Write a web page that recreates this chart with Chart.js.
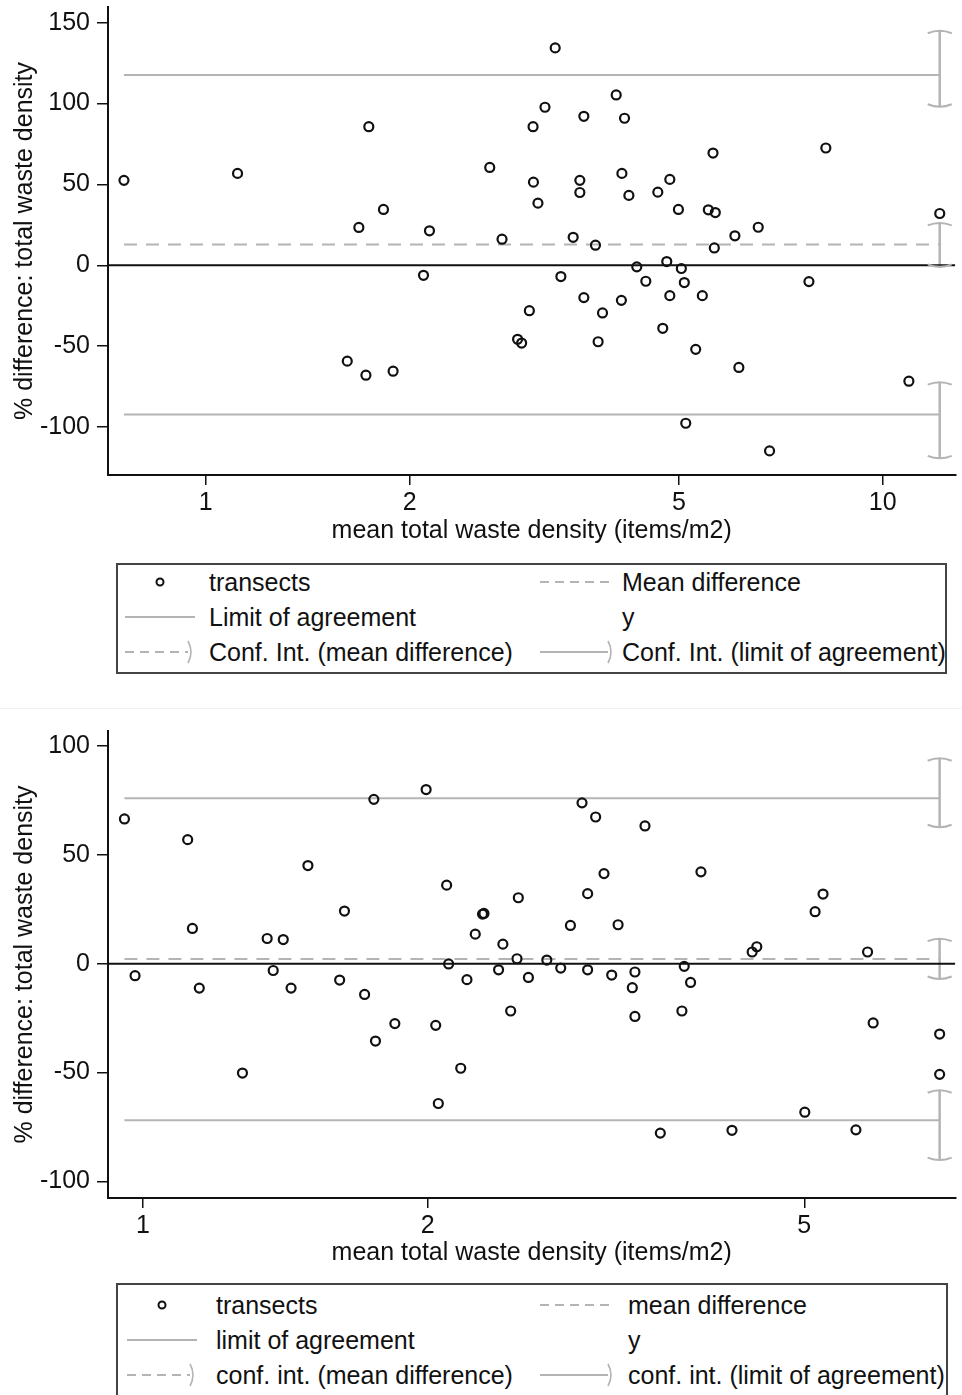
<!DOCTYPE html>
<html><head><meta charset="utf-8">
<script src="https://cdn.jsdelivr.net/npm/chart.js@4.4.1/dist/chart.umd.min.js"></script>
<style>
html,body{margin:0;padding:0;background:#fff;width:962px;height:1395px;overflow:hidden;font-family:"Liberation Sans",Arial,sans-serif;}
.cv{position:absolute;left:0;}
.legend{position:absolute;border:2px solid #444;box-sizing:border-box;font-size:25px;color:#111;background:#fff;}
.item{position:absolute;height:30px;line-height:30px;white-space:nowrap;}
.sym{position:absolute;}
.sep{position:absolute;left:0;width:962px;top:708px;height:1px;background:#f0f0f0;}
</style></head><body>
<canvas id="c1" class="cv" width="962" height="548" style="top:0px"></canvas>
<div id="l1" class="legend" style="left:116px;top:563px;width:831px;height:111px"></div>
<div class="sep"></div>
<canvas id="c2" class="cv" width="962" height="570" style="top:700px"></canvas>
<div id="l2" class="legend" style="left:116px;top:1283px;width:832px;height:130px"></div>
<script>
// ---------- Top panel data ----------
const topX = [0.757,1.114,1.741,1.683,1.830,2.140,2.097,1.618,1.724,1.891,
  3.282,2.627,2.739,4.039,3.17,3.618,4.155,3.044,5.614,8.241,
  3.048,3.569,3.569,3.095,4.118,4.217,4.653,4.847,4.991,5.525,
  5.658,12.14,6.048,6.548,3.489,3.764,5.639,4.797,4.332,5.041,
  3.346,4.467,5.092,3.618,4.847,5.414,7.78,4.111,3.006,3.855,
  4.732,2.888,2.928,3.798,5.293,6.13,10.93,5.117,6.805];
const topY = [52.5,56.8,85.7,23.4,34.5,21.3,-6.2,-59.3,-68,-65.5,
  134.4,60.5,16.1,105.3,97.7,92.1,90.9,85.7,69.4,72.5,
  51.4,52.5,45,38.4,56.8,43.2,45.2,53.1,34.5,34.3,
  32.6,32,18.2,23.5,17.3,12.4,10.7,2.3,-1,-2,
  -7,-9.9,-10.7,-20,-18.8,-18.8,-10.1,-21.7,-28.1,-29.5,
  -39,-45.8,-48.1,-47.3,-52,-63.2,-71.7,-97.7,-114.8];
const topXTicks = [1,2,5,10];
const topYTicks = [-100,-50,0,50,100,150];
const topXRange = [0.717,12.8];
const topYRange = [-129.7,159.7];
const topMeanDiff = 12.8;
const topLoa = [-92.3,117.7];
const topCiMean = [-1,26.2];
const topCiLoaUpper = [98,145];
const topCiLoaLower = [-119.4,-72.3];
const topLegend = ['transects','Mean difference','Limit of agreement','y','Conf. Int. (mean difference)','Conf. Int. (limit of agreement)'];

// ---------- Bottom panel data ----------
const botX = [0.956,0.981,1.115,1.128,1.147,1.274,1.353,1.407,1.373,1.434,
  1.494,1.614,1.633,1.715,1.754,1.761,1.846,1.992,2.039,2.052,
  2.094,2.104,2.167,2.2,2.245,2.285,2.293,2.401,2.376,2.485,
  2.493,2.447,2.555,2.672,2.764,2.83,2.911,2.951,2.951,3.009,
  3.071,3.129,3.178,3.29,3.311,3.311,3.393,3.522,3.733,3.712,
  3.791,3.888,4.193,4.404,4.454,5.006,5.133,5.233,5.669,5.832,
  5.912,6.95,6.95];
const botY = [66.5,-5.5,57,16.2,-11.2,-50.2,11.6,11.1,-3.1,-11.2,
  45.1,-7.5,24.2,-14.1,75.5,-35.5,-27.5,80,-28.3,-64.2,
  36.1,-0.1,-48,-7.3,13.6,22.8,23.1,9,-2.8,2.3,
  30.3,-21.7,-6.3,1.7,-2,17.6,73.9,32.2,-2.8,67.4,
  41.4,-5.2,17.9,-11,-3.8,-24.2,63.3,-77.8,-1.2,-21.7,
  -8.6,42.2,-76.5,5.4,7.8,-68.2,23.9,32,-76.3,5.4,
  -27.2,-32.3,-50.8];
const botXTicks = [1,2,5];
const botYTicks = [-100,-50,0,50,100];
const botXRange = [0.9185,7.22];
const botYRange = [-107.6,106.9];
const botMeanDiff = 2.2;
const botLoa = [-71.9,76];
const botCiMean = [-7,11.5];
const botCiLoaUpper = [62.7,94.4];
const botCiLoaLower = [-90.2,-58.1];
const botLegend = ['transects','mean difference','limit of agreement','y','conf. int. (mean difference)','conf. int. (limit of agreement)'];

const xTitle = 'mean total waste density (items/m2)';
const yTitle = '% difference: total waste density';

const GRAY = '#b4b4b4';
const INK = '#111';
Chart.defaults.font.family = '"Liberation Sans", Arial, sans-serif';
Chart.defaults.font.size = 25;
Chart.defaults.color = INK;

const ciCapPlugin = {
  id: 'ciCaps',
  afterDatasetsDraw(chart) {
    const ctx = chart.ctx;
    chart.data.datasets.forEach((ds, i) => {
      if (!ds.ciCap) return;
      const pts = chart.getDatasetMeta(i).data;
      if (pts.length < 2) return;
      const lo = pts[0], hi = pts[1];
      ctx.save();
      ctx.strokeStyle = ds.borderColor;
      ctx.lineWidth = 2;
      [[hi, 1], [lo, -1]].forEach(([p, s]) => {
        ctx.beginPath();
        ctx.moveTo(p.x - 12, p.y + s * 2.5);
        ctx.quadraticCurveTo(p.x, p.y - s * 2.5, p.x + 12, p.y + s * 2.5);
        ctx.stroke();
      });
      ctx.restore();
    });
  }
};

function buildChart(id, o) {
  const minX = Math.min(...o.x), maxX = Math.max(...o.x);
  const pts = o.x.map((x, i) => ({x, y: o.y[i]}));
  const hline = (y, x0, x1) => [{x: x0, y}, {x: x1, y}];
  const vline = (x, r) => [{x, y: r[0]}, {x, y: r[1]}];
  const lineDs = (label, data, extra) => Object.assign({
    label, data, showLine: true, borderColor: GRAY, borderWidth: 2,
    pointRadius: 0, pointHoverRadius: 0, fill: false, order: 2
  }, extra || {});
  const datasets = [
    {label: o.labels[0], data: pts, showLine: false, pointStyle: 'circle', pointRadius: 4.5,
     borderWidth: 2.2, pointBorderWidth: 2.2, pointBorderColor: INK, pointBackgroundColor: 'rgba(0,0,0,0)',
     borderColor: INK, backgroundColor: 'rgba(0,0,0,0)', order: 0},
    lineDs(o.labels[1], hline(o.mean, minX, maxX), {borderDash: [13, 9]}),
    lineDs(o.labels[2], hline(o.loa[1], minX, maxX)),
    lineDs(o.labels[2], hline(o.loa[0], minX, maxX)),
    lineDs(o.labels[3], hline(0, o.xRange[0], o.xRange[1]), {borderColor: INK, order: 1}),
    lineDs(o.labels[4], vline(maxX, o.ciMean), {borderWidth: 2.5, ciCap: true, order: 3}),
    lineDs(o.labels[5], vline(maxX, o.ciUp), {borderWidth: 2.5, ciCap: true, order: 3}),
    lineDs(o.labels[5], vline(maxX, o.ciLo), {borderWidth: 2.5, ciCap: true, order: 3})
  ];
  return new Chart(document.getElementById(id), {
    type: 'scatter',
    data: {datasets},
    plugins: [ciCapPlugin],
    options: {
      responsive: false, animation: false, devicePixelRatio: 1,
      layout: {padding: {top: o.padTop, right: 5, bottom: 0, left: 0}},
      plugins: {legend: {display: false}, tooltip: {enabled: false}},
      events: [],
      scales: {
        x: {
          type: 'logarithmic', bounds: 'data', min: o.xRange[0], max: o.xRange[1],
          afterBuildTicks: s => { s.ticks = o.xTicks.map(v => ({value: v})); },
          afterFit: s => { s.height = o.xAxisH; s.paddingLeft = 0; s.paddingRight = 0; },
          ticks: {callback: v => String(v), padding: 3, maxRotation: 0, minRotation: 0, autoSkip: false, color: INK, font: {size: 25}},
          grid: {drawOnChartArea: false, drawTicks: true, tickLength: 10, color: INK, lineWidth: 1.5},
          border: {display: true, color: INK, width: 2},
          title: {display: true, text: xTitle, color: INK, font: {size: 25}, padding: {top: 0, bottom: 2}}
        },
        y: {
          type: 'linear', bounds: 'data', min: o.yRange[0], max: o.yRange[1],
          afterBuildTicks: s => { s.ticks = o.yTicks.map(v => ({value: v})); },
          afterFit: s => { s.width = 108; s.paddingTop = 0; s.paddingBottom = 0; },
          ticks: {callback: v => String(v), padding: 7, color: INK, font: {size: 25}},
          grid: {drawOnChartArea: false, drawTicks: true, tickLength: 11, color: INK, lineWidth: 1.5},
          border: {display: true, color: INK, width: 2},
          title: {display: true, text: yTitle, color: INK, font: {size: 25}, padding: {top: 10, bottom: 0}}
        }
      }
    }
  });
}

buildChart('c1', {x: topX, y: topY, xTicks: topXTicks, yTicks: topYTicks, xRange: topXRange, yRange: topYRange,
  mean: topMeanDiff, loa: topLoa, ciMean: topCiMean, ciUp: topCiLoaUpper, ciLo: topCiLoaLower,
  labels: topLegend, padTop: 7, xAxisH: 73});
buildChart('c2', {x: botX, y: botY, xTicks: botXTicks, yTicks: botYTicks, xRange: botXRange, yRange: botYRange,
  mean: botMeanDiff, loa: botLoa, ciMean: botCiMean, ciUp: botCiLoaUpper, ciLo: botCiLoaLower,
  labels: botLegend, padTop: 31, xAxisH: 72});

// ---------- Legends ----------
const symbolSvg = {
  circle: '<circle cx="35" cy="15" r="3.5" stroke="#111" stroke-width="2" fill="none"/>',
  dash: '<line x1="0" y1="15" x2="70" y2="15" stroke="#b4b4b4" stroke-width="2" stroke-dasharray="9,6"/>',
  solid: '<line x1="0" y1="15" x2="70" y2="15" stroke="#b4b4b4" stroke-width="2"/>',
  none: '',
  dashcap: '<line x1="0" y1="15" x2="63" y2="15" stroke="#b4b4b4" stroke-width="2" stroke-dasharray="9,6"/><path d="M63 4 Q69 15 63 26" stroke="#b4b4b4" stroke-width="1.6" fill="none"/>',
  solidcap: '<line x1="0" y1="15" x2="68" y2="15" stroke="#b4b4b4" stroke-width="2"/><path d="M68 4 Q74 15 68 26" stroke="#b4b4b4" stroke-width="1.6" fill="none"/>'
};
const legendSymbols = ['circle', 'dash', 'solid', 'none', 'dashcap', 'solidcap'];
function buildLegend(id, labels, g) {
  const el = document.getElementById(id);
  labels.forEach((lab, i) => {
    const row = Math.floor(i / 2), col = i % 2;
    const cy = g.row0 + row * g.rowGap;
    const s = document.createElement('div');
    s.className = 'sym';
    s.style.left = g.symX[col] + 'px';
    s.style.top = (cy - 15) + 'px';
    s.innerHTML = '<svg width="80" height="30">' + symbolSvg[legendSymbols[i]] + '</svg>';
    el.appendChild(s);
    const t = document.createElement('div');
    t.className = 'item';
    t.style.left = g.textX[col] + 'px';
    t.style.top = (cy - 15) + 'px';
    t.textContent = lab;
    el.appendChild(t);
  });
}
buildLegend('l1', topLegend, {row0: 17, rowGap: 35, symX: [7, 422], textX: [91, 504]});
buildLegend('l2', botLegend, {row0: 20, rowGap: 35, symX: [9, 422], textX: [98, 510]});
</script>
</body></html>
